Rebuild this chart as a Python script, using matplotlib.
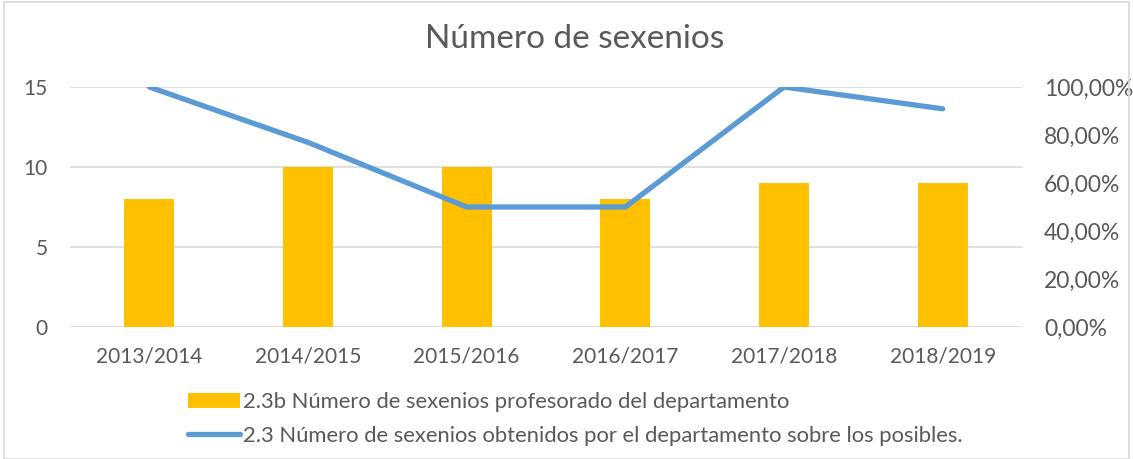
import matplotlib.pyplot as plt
from matplotlib.ticker import FuncFormatter
import numpy as np

cursos = ["2013/2014", "2014/2015", "2015/2016", "2016/2017", "2017/2018", "2018/2019"]
sexenios = [8, 10, 10, 8, 9, 9]
porcentaje = [1.0, 0.7692, 0.5, 0.5, 1.0, 0.9091]

etiqueta_barras = "2.3b Número de sexenios profesorado del departamento"
etiqueta_linea = "2.3 Número de sexenios obtenidos por el departamento sobre los posibles."

gris = "#595959"
plt.rcParams["font.family"] = ["Lato", "DejaVu Sans"]

fig = plt.figure(figsize=(11.33, 4.59), dpi=100)
ax = fig.add_axes([70 / 1133, 1 - 327 / 459, 952 / 1133, 240 / 459])
x = np.arange(len(cursos))

barras = ax.bar(x, sexenios, width=0.315, color="#FFC000", zorder=2, label=etiqueta_barras)
ax.set_xlim(-0.5, len(cursos) - 0.5)
ax.set_ylim(0, 15)
ax.set_yticks([0, 5, 10, 15])
ax.set_xticks(x)
ax.set_xticklabels(cursos)
ax.yaxis.grid(True, color="#D9D9D9", linewidth=1.2, zorder=0)
ax.set_axisbelow(True)
for s in ax.spines.values():
    s.set_visible(False)
ax.tick_params(length=0, labelsize=15, colors=gris)
ax.tick_params(axis="x", pad=14)
ax.tick_params(axis="y", pad=16)

ax2 = ax.twinx()
linea, = ax2.plot(x, porcentaje, color="#5B9BD5", linewidth=3.8, solid_capstyle="round",
                  zorder=3, label=etiqueta_linea)
ax2.set_ylim(0, 1.0)
ax2.set_yticks(np.arange(0, 1.01, 0.2))
ax2.yaxis.set_major_formatter(FuncFormatter(lambda v, p: f"{v * 100:.2f}%".replace(".", ",")))
for s in ax2.spines.values():
    s.set_visible(False)
ax2.tick_params(length=0, labelsize=16.5, colors=gris, pad=16)

fig.text(575 / 1133, 1 - 39 / 459, "Número de sexenios", ha="center", va="center",
         fontsize=24, color=gris)

fig.legend([barras, linea], [etiqueta_barras, etiqueta_linea], loc="upper left",
           bbox_to_anchor=(173 / 1133, 1 - 377 / 459), frameon=False, fontsize=15.8,
           labelcolor=gris, handlelength=2.35, handletextpad=0.15, labelspacing=0.6,
           borderpad=0.2)

borde = plt.Rectangle((4 / 1133, 0), 1 - 8 / 1133, 1 - 2 / 459, transform=fig.transFigure,
                      fill=False, edgecolor="#D9D9D9", linewidth=1.2)
fig.patches.append(borde)

fig.savefig("out.png", dpi=100)
